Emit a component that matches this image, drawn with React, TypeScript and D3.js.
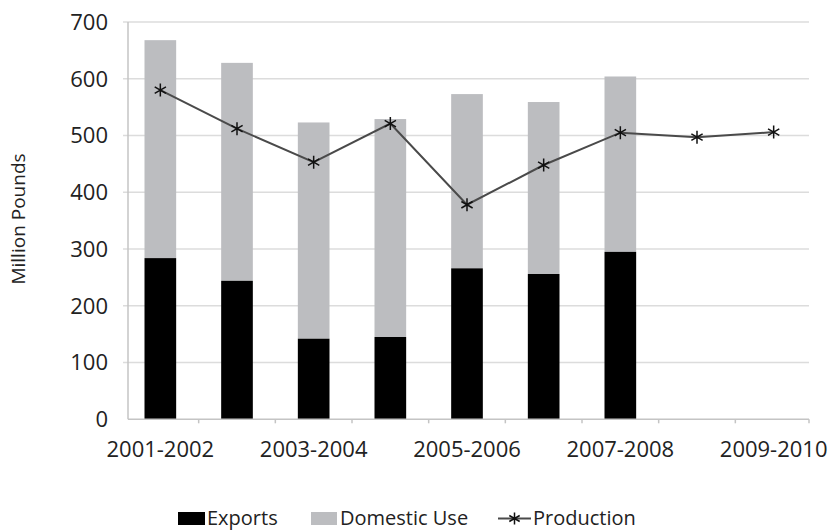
import React from "react";
import * as d3 from "d3";

// Marketing years shown on the category axis
const categories = [
  "2001-2002", "2002-2003", "2003-2004", "2004-2005", "2005-2006",
  "2006-2007", "2007-2008", "2008-2009", "2009-2010",
];
// Only every other year is labelled
const labelledCategories = ["2001-2002", "2003-2004", "2005-2006", "2007-2008", "2009-2010"];

// Million pounds
const exportsValues: (number | null)[] = [284, 244, 142, 145, 266, 256, 295, null, null];
const domesticValues: (number | null)[] = [384, 384, 381, 384, 307, 303, 309, null, null];
const productionValues = [580, 512, 453, 521, 378, 448, 505, 497, 506];

const yTicks = [0, 100, 200, 300, 400, 500, 600, 700];

const W = 832;
const H = 532;
const plot = { left: 128, right: 809, top: 22, bottom: 419.3 };

const FONT = "'Open Sans', 'Noto Sans', sans-serif";
const EXPORT_COLOR = "#000000";
const DOMESTIC_COLOR = "#bcbdc0";
const GRID_COLOR = "#dcdcdc";
const AXIS_COLOR = "#c4c4c4";
const LINE_COLOR = "#4a4a4a";

const pad = 0.587;
const x = d3
  .scaleBand<string>()
  .domain(categories)
  .range([122, 812])
  .paddingInner(pad)
  .paddingOuter(pad / 2);

const y = d3.scaleLinear().domain([0, 700]).range([plot.bottom, plot.top]);

// Six-armed asterisk marker
function asterisk(cx: number, cy: number, r: number) {
  const parts: string[] = [];
  for (const deg of [90, 30, -30]) {
    const a = (deg * Math.PI) / 180;
    const dx = Math.cos(a) * r;
    const dy = Math.sin(a) * r;
    parts.push(`M${cx - dx},${cy - dy}L${cx + dx},${cy + dy}`);
  }
  return parts.join("");
}

export default function App() {
  const bw = x.bandwidth();
  const step = x.step();
  const line = d3
    .line<number>()
    .x((_, i) => (x(categories[i]) as number) + bw / 2)
    .y((d) => y(d));

  const boundaryTicks = categories.slice(1).map((c) => (x(c) as number) - (step - bw) / 2);

  return (
    <svg
      width={W}
      height={H}
      style={{ position: "absolute", left: 0, top: 0, background: "#fff" }}
      fontFamily={FONT}
    >
      {/* horizontal gridlines */}
      {yTicks.slice(1).map((t) => (
        <line
          key={t}
          x1={plot.left - 5}
          x2={plot.right}
          y1={y(t)}
          y2={y(t)}
          stroke={GRID_COLOR}
          strokeWidth={1.5}
        />
      ))}

      {/* y tick labels */}
      {yTicks.map((t) => (
        <text
          key={t}
          x={108}
          y={y(t)}
          dy="0.36em"
          textAnchor="end"
          fontSize={22}
          fill="#222"
        >
          {t}
        </text>
      ))}

      {/* axis title */}
      <text
        transform={`translate(25,219) rotate(-90)`}
        textAnchor="middle"
        fontSize={19}
        fill="#222"
      >
        Million Pounds
      </text>

      {/* stacked bars */}
      {categories.map((c, i) => {
        const e = exportsValues[i];
        const dom = domesticValues[i];
        if (e == null || dom == null) return null;
        const x0 = x(c) as number;
        return (
          <g key={c}>
            <rect x={x0} y={y(e + dom)} width={bw} height={y(e) - y(e + dom)} fill={DOMESTIC_COLOR} />
            <rect x={x0} y={y(e)} width={bw} height={y(0) - y(e)} fill={EXPORT_COLOR} />
          </g>
        );
      })}

      {/* axes lines */}
      <line x1={plot.left} x2={plot.left} y1={plot.top} y2={plot.bottom} stroke={AXIS_COLOR} strokeWidth={1.5} />
      <line x1={plot.left} x2={plot.right} y1={plot.bottom} y2={plot.bottom} stroke={AXIS_COLOR} strokeWidth={1.5} />
      {[...boundaryTicks, plot.right].map((tx, i) => (
        <line key={i} x1={tx} x2={tx} y1={plot.bottom} y2={plot.bottom + 4} stroke={AXIS_COLOR} strokeWidth={1.5} />
      ))}

      {/* x labels */}
      {labelledCategories.map((c) => (
        <text
          key={c}
          x={(x(c) as number) + bw / 2}
          y={457}
          textAnchor="middle"
          fontSize={22}
          fill="#222"
        >
          {c}
        </text>
      ))}

      {/* production line */}
      <path d={line(productionValues) ?? ""} fill="none" stroke={LINE_COLOR} strokeWidth={2} />
      {productionValues.map((v, i) => (
        <path
          key={i}
          d={asterisk((x(categories[i]) as number) + bw / 2, y(v), 6.5)}
          stroke="#111"
          strokeWidth={1.5}
          fill="none"
        />
      ))}

      {/* legend */}
      <g fontSize={20} fill="#222">
        <rect x={178} y={512} width={27} height={13} fill={EXPORT_COLOR} />
        <text x={207} y={525}>Exports</text>
        <rect x={311} y={512} width={26} height={13} fill={DOMESTIC_COLOR} />
        <text x={340} y={525}>Domestic Use</text>
        <line x1={498} x2={531} y1={518.5} y2={518.5} stroke={LINE_COLOR} strokeWidth={2} />
        <path d={asterisk(514.5, 518.5, 6)} stroke="#111" strokeWidth={1.5} fill="none" />
        <text x={533} y={525}>Production</text>
      </g>
    </svg>
  );
}
